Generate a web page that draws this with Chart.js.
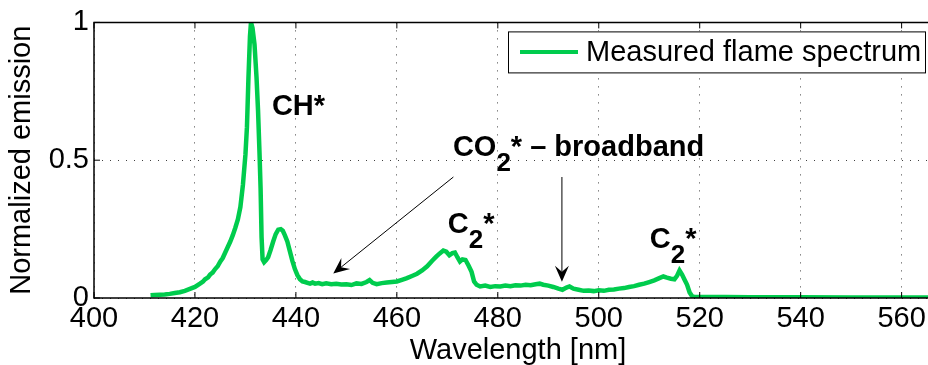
<!DOCTYPE html>
<html lang="en">
<head>
    <meta charset="UTF-8">
    <title>Measured flame spectrum</title>
    <style>
        html, body {
            margin: 0;
            padding: 0;
            background: #fff;
            overflow: hidden;
        }
        #wrap {
            width: 960px;
            height: 365px;
        }
    </style>
    <script src="https://cdn.jsdelivr.net/npm/chart.js"></script>
</head>
<body>
    <div id="wrap">
        <canvas id="chart" width="960" height="365"></canvas>
    </div>

    <script>
        // wavelength [nm] and normalized emission
        const wavelength = [
            411.2, 412, 413, 414, 415, 416, 417, 418, 419, 420,
            421, 421.6, 422, 422.6, 423, 423.5, 424, 424.5, 425, 425.5,
            426, 426.5, 427, 427.5, 428, 428.5, 429, 429.5, 430, 430.3,
            430.6, 430.9, 431.1, 431.4, 431.8, 432.2, 432.5, 432.8, 433.0, 433.2,
            433.4, 433.7, 434.1, 434.5, 435.0, 435.5, 436.0, 436.5, 437.0, 437.4,
            437.8, 438.3, 438.8, 439.3, 439.8, 440.3, 440.8, 441.3, 441.8, 442.3,
            442.8, 443.3, 443.8, 444.5, 445.2, 446, 447, 448, 449, 450,
            451, 452, 453, 454, 454.6, 455.2, 456, 457, 458, 459,
            460, 461, 462, 463, 464, 465, 466, 467, 467.8, 468.5,
            469.2, 469.8, 470.4, 471.0, 471.5, 472.0, 472.5, 473.0, 473.6, 474.2,
            474.8, 475.3, 475.8, 476.5, 477.5, 478.5, 479.5, 480.5, 481.5, 482.5,
            483.5, 484.5, 485.5, 486.5, 487.5, 488.3, 489, 490, 491, 492,
            492.8, 493.6, 494.2, 495, 496, 497, 498, 499, 500, 501,
            502, 503, 504, 505, 506, 507, 508, 509, 510, 511,
            512, 512.8, 513.5, 514.3, 515, 515.5, 516, 516.5, 517, 517.5,
            518, 518.5, 519, 525, 530, 540, 550, 560, 568
        ];
        const emission = [
            0.010, 0.011, 0.012, 0.013, 0.015, 0.018, 0.021, 0.026, 0.033, 0.040,
            0.052, 0.060, 0.068, 0.075, 0.085, 0.092, 0.105, 0.115, 0.132, 0.145,
            0.165, 0.185, 0.205, 0.228, 0.255, 0.285, 0.330, 0.410, 0.520, 0.620,
            0.800, 0.950, 1.000, 0.980, 0.920, 0.800, 0.680, 0.520, 0.400, 0.220,
            0.140, 0.130, 0.138, 0.148, 0.175, 0.205, 0.232, 0.248, 0.250, 0.244,
            0.228, 0.205, 0.170, 0.135, 0.105, 0.083, 0.068, 0.060, 0.058, 0.055,
            0.052, 0.056, 0.052, 0.054, 0.050, 0.053, 0.050, 0.052, 0.049, 0.050,
            0.047, 0.053, 0.051, 0.058, 0.065, 0.055, 0.050, 0.054, 0.056, 0.058,
            0.060, 0.066, 0.072, 0.080, 0.088, 0.100, 0.115, 0.135, 0.150, 0.162,
            0.172, 0.168, 0.155, 0.163, 0.165, 0.148, 0.132, 0.140, 0.138, 0.118,
            0.095, 0.060, 0.048, 0.042, 0.045, 0.040, 0.043, 0.042, 0.045, 0.043,
            0.046, 0.045, 0.048, 0.046, 0.050, 0.052, 0.048, 0.045, 0.040, 0.034,
            0.030, 0.038, 0.042, 0.034, 0.030, 0.026, 0.027, 0.025, 0.028, 0.026,
            0.030, 0.031, 0.034, 0.036, 0.040, 0.043, 0.048, 0.052, 0.058, 0.064,
            0.072, 0.078, 0.074, 0.070, 0.068, 0.080, 0.100, 0.085, 0.066, 0.048,
            0.020, 0.006, 0.004, 0.004, 0.003, 0.003, 0.002, 0.002, 0.002
        ];
        const xTicks = [400, 420, 440, 460, 480, 500, 520, 540, 560];
        const yTicks = [0, 0.5, 1];

        const lineColor = 'rgb(0, 204, 77)';
        const fontFamily = 'Helvetica, "Liberation Sans", Arial, sans-serif';
        const fontSize = 29;

        // text labels and arrows, in data coordinates
        const labels = [
            { x: 435.25, y: 0.665, parts: [['CH*', 0]] },
            { x: 471.1, y: 0.514, parts: [['CO', 0], ['2', 1], ['*', 0], [' \u2013 broadband', 0]] },
            { x: 470.1, y: 0.237, parts: [['C', 0], ['2', 1], ['*', 0]] },
            { x: 510.1, y: 0.180, parts: [['C', 0], ['2', 1], ['*', 0]] }
        ];
        const arrows = [
            { from: [471.2, 0.439], to: [447.4, 0.089] },
            { from: [492.7, 0.439], to: [492.7, 0.059] }
        ];

        const points = wavelength.map((w, i) => ({ x: w, y: emission[i] }));

        const boxPlugin = {
            id: 'matlabBox',
            afterDatasetsDraw(chart) {
                const ctx = chart.ctx;
                const a = chart.chartArea;
                const xs = chart.scales.x;
                const ys = chart.scales.y;
                ctx.save();

                // axes box (left, bottom, top) with inward ticks
                ctx.strokeStyle = '#000';
                ctx.lineWidth = 1.5;
                ctx.beginPath();
                ctx.moveTo(chart.width, a.top);
                ctx.lineTo(a.left, a.top);
                ctx.lineTo(a.left, a.bottom);
                ctx.lineTo(chart.width, a.bottom);
                ctx.stroke();
                ctx.lineWidth = 1;
                ctx.beginPath();
                xTicks.forEach(t => {
                    const px = xs.getPixelForValue(t);
                    ctx.moveTo(px, a.bottom);
                    ctx.lineTo(px, a.bottom - 6);
                    ctx.moveTo(px, a.top);
                    ctx.lineTo(px, a.top + 6);
                });
                yTicks.forEach(t => {
                    const py = ys.getPixelForValue(t);
                    ctx.moveTo(a.left, py);
                    ctx.lineTo(a.left + 6, py);
                });
                ctx.stroke();

                // annotations
                ctx.fillStyle = '#000';
                ctx.textBaseline = 'alphabetic';
                labels.forEach(l => {
                    let px = xs.getPixelForValue(l.x);
                    const py = ys.getPixelForValue(l.y);
                    l.parts.forEach(([txt, sub]) => {
                        ctx.font = 'bold ' + (sub ? 26 : 29) + 'px ' + fontFamily;
                        ctx.fillText(txt, px, py + (sub ? 15 : 0));
                        px += ctx.measureText(txt).width;
                    });
                });

                ctx.strokeStyle = '#000';
                ctx.lineWidth = 1;
                arrows.forEach(ar => {
                    const x0 = xs.getPixelForValue(ar.from[0]);
                    const y0 = ys.getPixelForValue(ar.from[1]);
                    const x1 = xs.getPixelForValue(ar.to[0]);
                    const y1 = ys.getPixelForValue(ar.to[1]);
                    const ang = Math.atan2(y1 - y0, x1 - x0);
                    const len = 16, half = 7, notch = 10;
                    ctx.beginPath();
                    ctx.moveTo(x0, y0);
                    ctx.lineTo(x1 - Math.cos(ang) * notch, y1 - Math.sin(ang) * notch);
                    ctx.stroke();
                    const bx = x1 - Math.cos(ang) * len;
                    const by = y1 - Math.sin(ang) * len;
                    const nx = -Math.sin(ang), ny = Math.cos(ang);
                    ctx.beginPath();
                    ctx.moveTo(x1, y1);
                    ctx.lineTo(bx + nx * half, by + ny * half);
                    ctx.lineTo(x1 - Math.cos(ang) * notch, y1 - Math.sin(ang) * notch);
                    ctx.lineTo(bx - nx * half, by - ny * half);
                    ctx.closePath();
                    ctx.fill();
                });

                // legend box
                const lx = 508, ly = a.top + 9, lw = 417, lh = 41;
                ctx.fillStyle = '#fff';
                ctx.fillRect(lx, ly, lw, lh);
                ctx.strokeStyle = '#000';
                ctx.lineWidth = 1;
                ctx.strokeRect(lx + 0.5, ly + 0.5, lw, lh);
                ctx.strokeStyle = lineColor;
                ctx.lineWidth = 4;
                ctx.beginPath();
                ctx.moveTo(lx + 12, ly + lh / 2);
                ctx.lineTo(lx + 70, ly + lh / 2);
                ctx.stroke();
                ctx.fillStyle = '#000';
                ctx.font = fontSize + 'px ' + fontFamily;
                ctx.textBaseline = 'middle';
                ctx.fillText('Measured flame spectrum', lx + 78, ly + lh / 2 + 1);

                ctx.restore();
            }
        };

        const ctx = document.getElementById('chart').getContext('2d');
        new Chart(ctx, {
            type: 'line',
            data: {
                datasets: [{
                    label: 'Measured flame spectrum',
                    data: points,
                    borderColor: lineColor,
                    borderWidth: 4.5,
                    pointRadius: 0,
                    tension: 0,
                    fill: false
                }]
            },
            options: {
                responsive: false,
                animation: false,
                layout: { padding: { left: 0, top: 20, right: 18, bottom: 0 } },
                plugins: {
                    legend: { display: false },
                    tooltip: { enabled: false }
                },
                scales: {
                    x: {
                        type: 'linear',
                        min: 400,
                        max: 568,
                        afterBuildTicks: (scale) => { scale.ticks = xTicks.map(v => ({ value: v })); },
                        afterFit: (scale) => { scale.height = 67; },
                        ticks: {
                            color: '#000',
                            padding: 4,
                            font: { family: fontFamily, size: fontSize }
                        },
                        grid: {
                            color: 'rgba(0,0,0,0.75)',
                            lineWidth: 1,
                            drawTicks: false
                        },
                        border: { display: false, dash: [1, 7] },
                        title: {
                            display: true,
                            text: 'Wavelength [nm]',
                            color: '#000',
                            padding: 0,
                            font: { family: fontFamily, size: fontSize, lineHeight: 1 }
                        }
                    },
                    y: {
                        min: 0,
                        max: 1,
                        afterBuildTicks: (scale) => { scale.ticks = yTicks.map(v => ({ value: v })); },
                        afterFit: (scale) => { scale.width = 94; },
                        ticks: {
                            color: '#000',
                            padding: 5,
                            font: { family: fontFamily, size: fontSize },
                            callback: (v) => String(v)
                        },
                        grid: {
                            color: 'rgba(0,0,0,0.75)',
                            lineWidth: 1,
                            drawTicks: false
                        },
                        border: { display: false, dash: [1, 7] },
                        title: {
                            display: true,
                            text: 'Normalized emission',
                            color: '#000',
                            padding: 7,
                            font: { family: fontFamily, size: fontSize, lineHeight: 1 }
                        }
                    }
                }
            },
            plugins: [boxPlugin]
        });
    </script>
</body>
</html>
